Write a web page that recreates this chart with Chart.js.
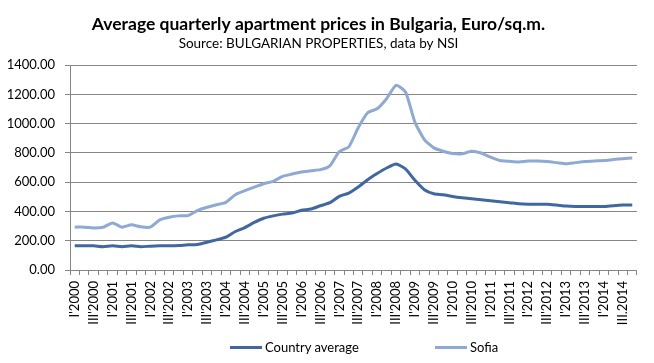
<!DOCTYPE html>
<html>
<head>
<meta charset="utf-8">
<script src="https://cdn.jsdelivr.net/npm/chart.js@4.4.1/dist/chart.umd.min.js"></script>
<style>
  body { margin: 0; background: #fff; }
  #wrap { position: relative; width: 654px; height: 363px; }
  .legend-item { position: absolute; top: 339px; font: 13px Lato, sans-serif; color: #000; display: flex; align-items: center; }
  .legend-line { width: 32px; height: 3px; margin-right: 3px; }
</style>
</head>
<body>
<div id="wrap">
  <canvas id="priceChart" width="654" height="363"></canvas>
  <div class="legend-item" style="left:230px;"><span class="legend-line" style="background:#3f68a3;"></span>Country average</div>
  <div class="legend-item" style="left:435px;"><span class="legend-line" style="background:#8ea9d4;"></span>Sofia</div>
</div>
<script>
// --- Data ---
const quarterLabels = [
    "I'2000", "II'2000", "III'2000", "IV'2000",
    "I'2001", "II'2001", "III'2001", "IV'2001",
    "I'2002", "II'2002", "III'2002", "IV'2002",
    "I'2003", "II'2003", "III'2003", "IV'2003",
    "I'2004", "II'2004", "III'2004", "IV'2004",
    "I'2005", "II'2005", "III'2005", "IV'2005",
    "I'2006", "II'2006", "III'2006", "IV'2006",
    "I'2007", "II'2007", "III'2007", "IV'2007",
    "I'2008", "II'2008", "III'2008", "IV'2008",
    "I'2009", "II'2009", "III'2009", "IV'2009",
    "I'2010", "II'2010", "III'2010", "IV'2010",
    "I'2011", "II'2011", "III'2011", "IV'2011",
    "I'2012", "II'2012", "III'2012", "IV'2012",
    "I'2013", "II'2013", "III'2013", "IV'2013",
    "I'2014", "II'2014", "III.2014", "IV.2014"
];

const countryAverage = [
    165, 165, 165, 159, 165, 159, 165, 159, 163, 165, 165, 167,
    172, 174, 190, 206, 224, 263, 290, 325, 354, 370, 382, 389,
    408, 417, 439, 460, 503, 526, 567, 617, 659, 697, 725, 691,
    613, 549, 521, 515, 503, 494, 487, 480, 473, 466, 460, 453,
    450, 450, 450, 444, 437, 434, 434, 434, 434, 440, 444, 444
];

const sofia = [
    293, 293, 287, 292, 322, 293, 309, 295, 293, 343, 361, 370,
    372, 407, 429, 446, 462, 515, 542, 567, 590, 606, 640, 656,
    670, 679, 686, 712, 810, 842, 972, 1075, 1102, 1171, 1262, 1217,
    1011, 892, 835, 812, 796, 794, 812, 800, 771, 748, 743, 739,
    745, 745, 741, 734, 727, 734, 741, 745, 748, 755, 761, 766
];

const yTicks = { min: 0, max: 1400, step: 200 };

// --- Chart ---
const gridColor = '#868686';
const fontFamily = 'Lato, sans-serif';

new Chart(document.getElementById('priceChart'), {
    type: 'line',
    data: {
        labels: quarterLabels,
        datasets: [{
            label: 'Country average',
            data: countryAverage,
            borderColor: '#3f68a3',
            borderWidth: 3,
            pointRadius: 0,
            tension: 0.2
        }, {
            label: 'Sofia',
            data: sofia,
            borderColor: '#8ea9d4',
            borderWidth: 3,
            pointRadius: 0,
            tension: 0.2
        }]
    },
    options: {
        responsive: false,
        animation: false,
        layout: { padding: { left: 0, right: 17, top: 0, bottom: 30 } },
        plugins: {
            legend: { display: false },
            tooltip: { enabled: false },
            title: {
                display: true,
                text: 'Average quarterly apartment prices in Bulgaria, Euro/sq.m.',
                color: '#000',
                font: { family: fontFamily, size: 17.5, weight: 'bold' },
                padding: { top: 14, bottom: 0 }
            },
            subtitle: {
                display: true,
                text: 'Source: BULGARIAN PROPERTIES, data by NSI',
                color: '#000',
                font: { family: fontFamily, size: 13.5 },
                padding: { top: 1, bottom: 13 }
            }
        },
        scales: {
            x: {
                offset: true,
                grid: { drawOnChartArea: false, drawTicks: true, tickLength: 5, offset: true, color: gridColor },
                border: { color: gridColor },
                ticks: {
                    autoSkip: false,
                    minRotation: 90,
                    maxRotation: 90,
                    padding: 6,
                    color: '#000',
                    font: { family: fontFamily, size: 13 },
                    callback: function (value, index) {
                        return index % 2 === 0 ? this.getLabelForValue(value) : '';
                    }
                },
                afterFit: (axis) => { axis.height = 63; }
            },
            y: {
                min: yTicks.min,
                max: yTicks.max,
                grid: { color: gridColor, tickLength: 5 },
                border: { color: gridColor },
                ticks: {
                    stepSize: yTicks.step,
                    padding: 10,
                    color: '#000',
                    font: { family: fontFamily, size: 13 },
                    callback: (v) => v.toFixed(2)
                },
                afterFit: (axis) => { axis.width = 70; }
            }
        }
    }
});
</script>
</body>
</html>
